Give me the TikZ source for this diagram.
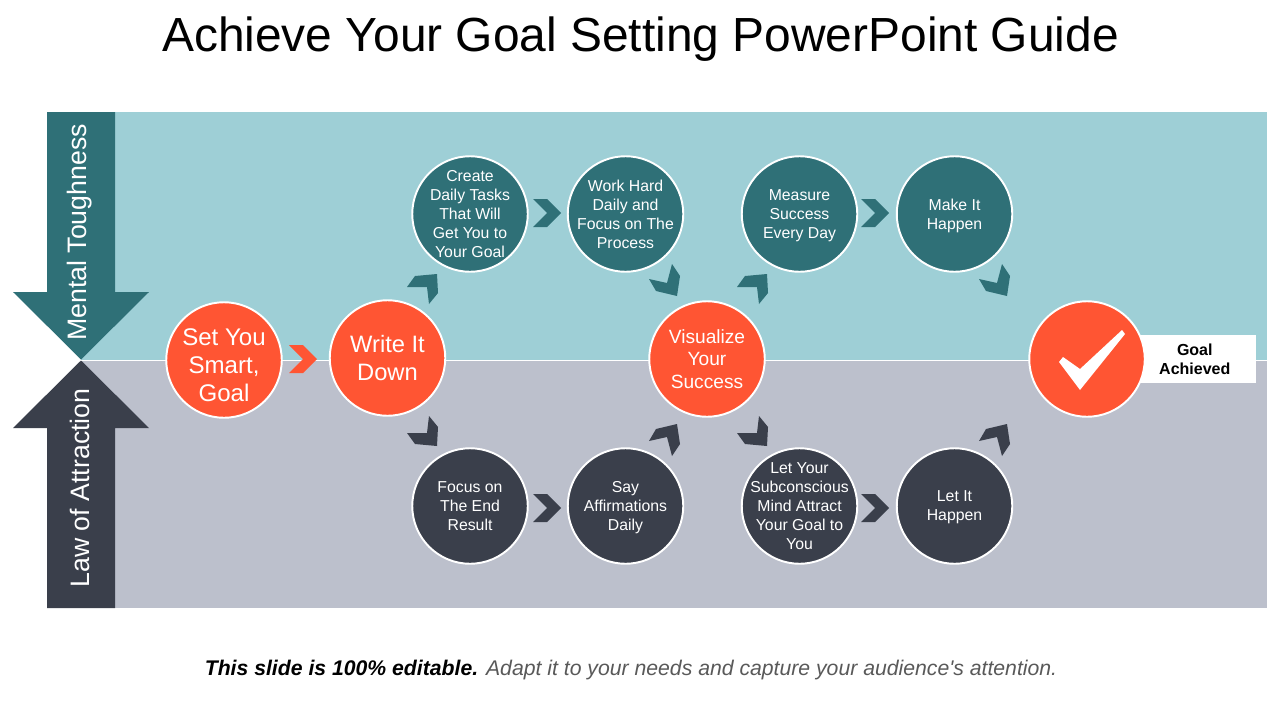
\documentclass[tikz,border=0pt]{standalone}
\usepackage{fontspec}
\setmainfont{Liberation Sans}
\definecolor{tealband}{HTML}{9ECFD6}
\definecolor{grayband}{HTML}{BCC0CC}
\definecolor{tealdark}{HTML}{2F7077}
\definecolor{slatedark}{HTML}{3A3F4B}
\definecolor{hotorange}{HTML}{FF5533}
\definecolor{footgray}{HTML}{595959}
\tikzset{
    stepdisc/.style={draw=white, line width=1.1pt, circle, minimum size=2.31cm, inner sep=-0.5cm,
        text=white, align=center},
    tealdisc/.style={stepdisc, fill=tealdark, font=\fontsize{9}{10.8}\selectfont},
    slatedisc/.style={stepdisc, fill=slatedark, font=\fontsize{9}{10.8}\selectfont},
    hotdisc/.style={stepdisc, fill=hotorange},
    sidelabel/.style={text=white, rotate=90, inner sep=0pt, font=\fontsize{15.2}{16}\selectfont},
    chevright/.pic={\fill[pic actions] (-14,-14) -- (0,-14) -- (14,0) -- (0,14) -- (-14,14) -- (0,0) -- cycle;},
    chevup/.pic={\fill[pic actions] (-20,0) -- (-12,-11) -- (10,-13) -- (11,6) -- (2,17) -- (0,0) -- cycle;},
    chevdown/.pic={\fill[pic actions] (-16,-4) -- (-9,8) -- (12,13) -- (15,-7) -- (7,-19) -- (2,0) -- cycle;}
}
\begin{document}
\begin{tikzpicture}[x=0.02cm, y=-0.02cm]
    \useasboundingbox (0,0) rectangle (1280,720);
    \node[font=\fontsize{27.26}{30}\selectfont] (title) at (640.5,39) {Achieve Your Goal Setting PowerPoint Guide};

    % Bands
    \fill[tealband] (81,112) rectangle (1267,359.5);
    \fill[grayband] (81,360.5) rectangle (1267,608);

    % Side arrows
    \fill[tealdark] (47,112) -- (115,112) -- (115,292) -- (149,292) -- (81,359.5) -- (13,292) -- (47,292) -- cycle;
    \fill[slatedark] (47,608) -- (115,608) -- (115,428) -- (149,428) -- (81,360.5) -- (13,428) -- (47,428) -- cycle;
    \node[sidelabel] (toughness) at (79.5,232.5) {Mental Toughness};
    \node[sidelabel] (attraction) at (79.5,488) {Law of Attraction};

    % Start
    \node[hotdisc, font=\fontsize{13.7}{16.2}\selectfont] (setgoal) at (224,360) {\rule{0pt}{15.5pt}Set You\\Smart,\\Goal};
    \node[hotdisc, font=\fontsize{13.5}{16.2}\selectfont] (writedown) at (387.5,358) {Write It\\Down};
    \pic[fill=hotorange] at (303,359) {chevright};

    % Upper row
    \node[tealdisc] (tasks) at (470,214) {Create\\Daily Tasks\\That Will\\Get You to\\Your Goal};
    \node[tealdisc] (workhard) at (625.5,214) {Work Hard\\Daily and\\Focus on The\\Process};
    \node[tealdisc] (measure) at (799.5,214) {Measure\\Success\\\smash{Every Day}};
    \node[tealdisc] (makeit) at (954.5,214) {Make It\\\smash{Happen}};
    \pic[fill=tealdark] at (427,287) {chevup};
    \pic[fill=tealdark] at (547,213) {chevright};
    \pic[fill=tealdark] at (665,283) {chevdown};
    \pic[fill=tealdark] at (757,287) {chevup};
    \pic[fill=tealdark] at (875,213) {chevright};
    \pic[fill=tealdark] at (995,283) {chevdown};

    % Lower row
    \node[slatedisc] (endresult) at (470,506) {Focus on\\The End\\Result};
    \node[slatedisc] (affirm) at (625.5,506) {Say\\Affirmations\\\smash{Daily}};
    \node[slatedisc] (subconscious) at (799.5,506) {Let Your\\Subconscious\\Mind Attract\\Your Goal to\\You};
    \node[slatedisc] (letit) at (954.5,506) {Let It\\\smash{Happen}};
    \pic[fill=slatedark, yscale=-1] at (427,433) {chevup};
    \pic[fill=slatedark] at (547,508) {chevright};
    \pic[fill=slatedark, yscale=-1] at (665,437) {chevdown};
    \pic[fill=slatedark, yscale=-1] at (757,433) {chevup};
    \pic[fill=slatedark] at (875,508) {chevright};
    \pic[fill=slatedark, yscale=-1] at (995,437) {chevdown};

    % Middle and end
    \node[hotdisc, font=\fontsize{10.9}{12.7}\selectfont] (visualize) at (707,359) {Visualize\\Your\\Success};
    \node[fill=white, minimum width=2.32cm, minimum height=0.96cm, inner sep=0pt, align=center,
        font=\bfseries\fontsize{9.1}{10.8}\selectfont] (achieved) at (1198,359) {\hspace*{-3.7pt}Goal\\\hspace*{-3.7pt}Achieved};
    \node[hotdisc] (goaldone) at (1087,359) {};
    \fill[white] (1059,362) -- (1063,357) -- (1080,369) -- (1122,330) -- (1125,334) -- (1080,390) -- cycle;

    % Footer
    \node[font=\itshape\fontsize{12.07}{14}\selectfont, text=footgray] (footer) at (631,670)
        {\textcolor{black}{\bfseries This slide is 100\% editable.} Adapt it to your needs and capture your audience\textquotesingle s attention.};
\end{tikzpicture}
\end{document}
